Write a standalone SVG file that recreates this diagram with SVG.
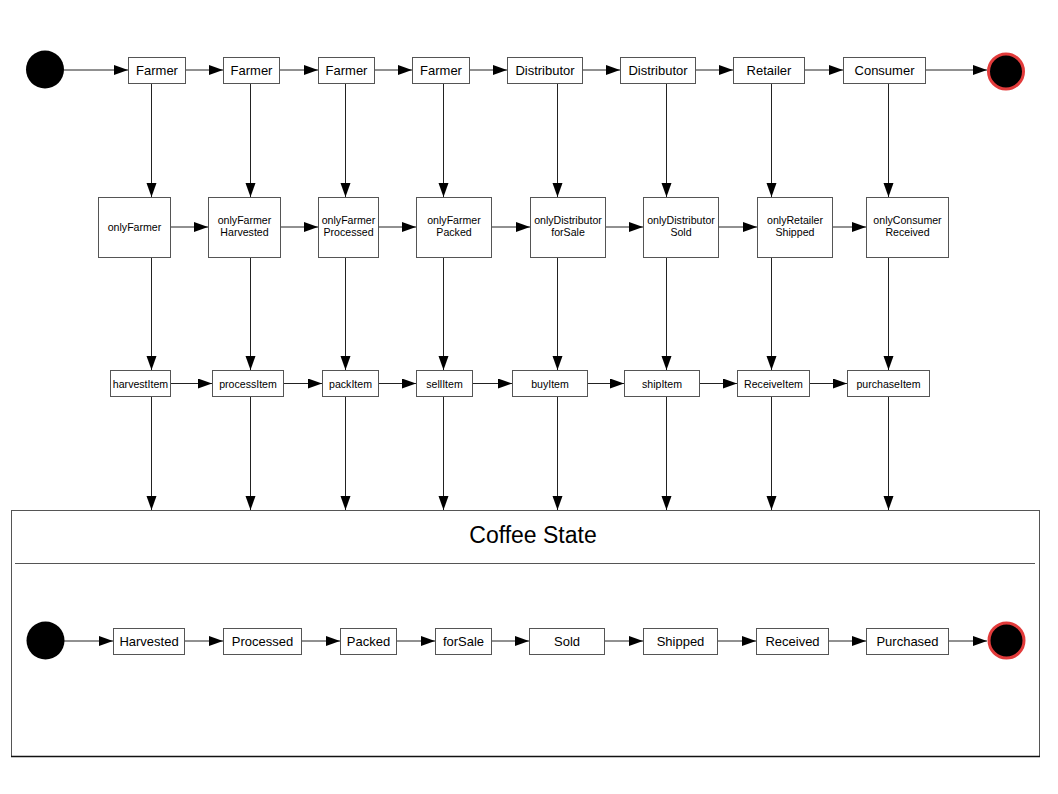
<svg xmlns="http://www.w3.org/2000/svg" width="1058" height="794" viewBox="0 0 1058 794">
<defs>
<marker id="ah" markerUnits="userSpaceOnUse" markerWidth="15" markerHeight="11" refX="14" refY="5" orient="auto">
<path d="M0,0 L14,5 L0,10 z" fill="#000"/>
</marker>
<style>
.b{fill:#fff;stroke:#555;stroke-width:1}
.t{font-family:"Liberation Sans",Arial,sans-serif;fill:#000;text-anchor:middle}
.l{font-size:13px}
.s{font-size:10.6px}
.c line{stroke:#222;stroke-width:1;marker-end:url(#ah)}
.st{fill:#000}
.en{fill:#000;stroke:#e23b3b;stroke-width:3}
</style>
</defs>
<rect width="1058" height="794" fill="#fff"/>

<g id="container">
<rect x="11.5" y="510.5" width="1028" height="246" fill="#fff" stroke="#555" stroke-width="1"/>
<line x1="11" y1="756.5" x2="1040" y2="756.5" stroke="#111" stroke-width="1.5"/>
<line x1="15" y1="563.5" x2="1035" y2="563.5" stroke="#555" stroke-width="1"/>
<text class="t" x="533" y="543" font-size="23">Coffee State</text>
</g>

<g id="connectors" class="c">
<!-- top row -->
<line x1="64" y1="70" x2="128" y2="70"/>
<line x1="186" y1="70" x2="223" y2="70"/>
<line x1="280" y1="70" x2="318" y2="70"/>
<line x1="375" y1="70" x2="412" y2="70"/>
<line x1="470" y1="70" x2="507" y2="70"/>
<line x1="583" y1="70" x2="620" y2="70"/>
<line x1="696" y1="70" x2="733" y2="70"/>
<line x1="805" y1="70" x2="843" y2="70"/>
<line x1="926" y1="70" x2="987" y2="70"/>
<!-- middle row -->
<line x1="171" y1="227" x2="208" y2="227"/>
<line x1="281" y1="227" x2="318" y2="227"/>
<line x1="378" y1="227" x2="416" y2="227"/>
<line x1="492" y1="227" x2="530" y2="227"/>
<line x1="606" y1="227" x2="643" y2="227"/>
<line x1="719" y1="227" x2="757" y2="227"/>
<line x1="833" y1="227" x2="866" y2="227"/>
<!-- method row -->
<line x1="170" y1="383.5" x2="212" y2="383.5"/>
<line x1="284" y1="383.5" x2="322" y2="383.5"/>
<line x1="378" y1="383.5" x2="416" y2="383.5"/>
<line x1="472" y1="383.5" x2="512" y2="383.5"/>
<line x1="587" y1="383.5" x2="624" y2="383.5"/>
<line x1="700" y1="383.5" x2="737" y2="383.5"/>
<line x1="810" y1="383.5" x2="847" y2="383.5"/>
<!-- bottom row -->
<line x1="64" y1="641" x2="113" y2="641"/>
<line x1="185" y1="641" x2="223" y2="641"/>
<line x1="302" y1="641" x2="340" y2="641"/>
<line x1="397" y1="641" x2="435" y2="641"/>
<line x1="492" y1="641" x2="529" y2="641"/>
<line x1="605" y1="641" x2="643" y2="641"/>
<line x1="718" y1="641" x2="756" y2="641"/>
<line x1="829" y1="641" x2="866" y2="641"/>
<line x1="949" y1="641" x2="987" y2="641"/>
<!-- verticals top to middle -->
<line x1="151.5" y1="83" x2="151.5" y2="197"/>
<line x1="250.5" y1="83" x2="250.5" y2="197"/>
<line x1="345.5" y1="83" x2="345.5" y2="197"/>
<line x1="443.5" y1="83" x2="443.5" y2="197"/>
<line x1="557.5" y1="83" x2="557.5" y2="197"/>
<line x1="666.5" y1="83" x2="666.5" y2="197"/>
<line x1="771.5" y1="83" x2="771.5" y2="197"/>
<line x1="888.5" y1="83" x2="888.5" y2="197"/>
<!-- verticals middle to method -->
<line x1="151.5" y1="257" x2="151.5" y2="370"/>
<line x1="250.5" y1="257" x2="250.5" y2="370"/>
<line x1="345.5" y1="257" x2="345.5" y2="370"/>
<line x1="443.5" y1="257" x2="443.5" y2="370"/>
<line x1="557.5" y1="257" x2="557.5" y2="370"/>
<line x1="666.5" y1="257" x2="666.5" y2="370"/>
<line x1="771.5" y1="257" x2="771.5" y2="370"/>
<line x1="888.5" y1="257" x2="888.5" y2="370"/>
<!-- verticals method to container -->
<line x1="151.5" y1="397" x2="151.5" y2="510"/>
<line x1="250.5" y1="397" x2="250.5" y2="510"/>
<line x1="345.5" y1="397" x2="345.5" y2="510"/>
<line x1="443.5" y1="397" x2="443.5" y2="510"/>
<line x1="557.5" y1="397" x2="557.5" y2="510"/>
<line x1="666.5" y1="397" x2="666.5" y2="510"/>
<line x1="771.5" y1="397" x2="771.5" y2="510"/>
<line x1="888.5" y1="397" x2="888.5" y2="510"/>
</g>

<!-- top row -->
<g id="start-top"><circle class="st" cx="45" cy="69.5" r="19"/></g>
<g id="end-top"><circle class="en" cx="1006" cy="71.5" r="17.5"/></g>
<g id="farmer1"><rect class="b" x="128.5" y="57.5" width="57" height="26"/><text class="t l" x="157" y="75">Farmer</text></g>
<g id="farmer2"><rect class="b" x="223.5" y="57.5" width="56" height="26"/><text class="t l" x="251.5" y="75">Farmer</text></g>
<g id="farmer3"><rect class="b" x="318.5" y="57.5" width="56" height="26"/><text class="t l" x="346.5" y="75">Farmer</text></g>
<g id="farmer4"><rect class="b" x="412.5" y="57.5" width="57" height="26"/><text class="t l" x="441" y="75">Farmer</text></g>
<g id="distributor1"><rect class="b" x="507.5" y="57.5" width="75" height="26"/><text class="t l" x="545" y="75">Distributor</text></g>
<g id="distributor2"><rect class="b" x="620.5" y="57.5" width="75" height="26"/><text class="t l" x="658" y="75">Distributor</text></g>
<g id="retailer"><rect class="b" x="733.5" y="57.5" width="71" height="26"/><text class="t l" x="769" y="75">Retailer</text></g>
<g id="consumer"><rect class="b" x="843.5" y="57.5" width="82" height="26"/><text class="t l" x="884.5" y="75">Consumer</text></g>

<!-- middle row -->
<g id="onlyFarmer"><rect class="b" x="98.5" y="197.5" width="72" height="60"/><text class="t s" x="134.5" y="230.5">onlyFarmer</text></g>
<g id="onlyFarmerHarvested"><rect class="b" x="208.5" y="197.5" width="72" height="60"/><text class="t s" x="244.5" y="224">onlyFarmer</text><text class="t s" x="244.5" y="236">Harvested</text></g>
<g id="onlyFarmerProcessed"><rect class="b" x="318.5" y="197.5" width="60" height="60"/><text class="t s" x="348.5" y="224">onlyFarmer</text><text class="t s" x="348.5" y="236">Processed</text></g>
<g id="onlyFarmerPacked"><rect class="b" x="416.5" y="197.5" width="75" height="60"/><text class="t s" x="454" y="224">onlyFarmer</text><text class="t s" x="454" y="236">Packed</text></g>
<g id="onlyDistributorForSale"><rect class="b" x="530.5" y="197.5" width="75" height="60"/><text class="t s" x="568" y="224">onlyDistributor</text><text class="t s" x="568" y="236">forSale</text></g>
<g id="onlyDistributorSold"><rect class="b" x="643.5" y="197.5" width="75" height="60"/><text class="t s" x="681" y="224">onlyDistributor</text><text class="t s" x="681" y="236">Sold</text></g>
<g id="onlyRetailerShipped"><rect class="b" x="757.5" y="197.5" width="75" height="60"/><text class="t s" x="795" y="224">onlyRetailer</text><text class="t s" x="795" y="236">Shipped</text></g>
<g id="onlyConsumerReceived"><rect class="b" x="866.5" y="197.5" width="82" height="60"/><text class="t s" x="907.5" y="224">onlyConsumer</text><text class="t s" x="907.5" y="236">Received</text></g>

<!-- method row -->
<g id="harvestItem"><rect class="b" x="110.5" y="370.5" width="60" height="26"/><text class="t s" x="140.5" y="387.5">harvestItem</text></g>
<g id="processItem"><rect class="b" x="212.5" y="370.5" width="71" height="26"/><text class="t s" x="248" y="387.5">processItem</text></g>
<g id="packItem"><rect class="b" x="322.5" y="370.5" width="56" height="26"/><text class="t s" x="350.5" y="387.5">packItem</text></g>
<g id="sellItem"><rect class="b" x="416.5" y="370.5" width="56" height="26"/><text class="t s" x="444.5" y="387.5">sellItem</text></g>
<g id="buyItem"><rect class="b" x="512.5" y="370.5" width="75" height="26"/><text class="t s" x="550" y="387.5">buyItem</text></g>
<g id="shipItem"><rect class="b" x="624.5" y="370.5" width="75" height="26"/><text class="t s" x="662" y="387.5">shipItem</text></g>
<g id="ReceiveItem"><rect class="b" x="737.5" y="370.5" width="72" height="26"/><text class="t s" x="773.5" y="387.5">ReceiveItem</text></g>
<g id="purchaseItem"><rect class="b" x="847.5" y="370.5" width="82" height="26"/><text class="t s" x="888.5" y="387.5">purchaseItem</text></g>

<!-- bottom row -->
<g id="start-bottom"><circle class="st" cx="45.5" cy="640.5" r="19"/></g>
<g id="end-bottom"><circle class="en" cx="1006.5" cy="640.5" r="17.5"/></g>
<g id="Harvested"><rect class="b" x="113.5" y="628.5" width="71" height="26"/><text class="t l" x="149" y="646">Harvested</text></g>
<g id="Processed"><rect class="b" x="223.5" y="628.5" width="78" height="26"/><text class="t l" x="262.5" y="646">Processed</text></g>
<g id="Packed"><rect class="b" x="340.5" y="628.5" width="56" height="26"/><text class="t l" x="368.5" y="646">Packed</text></g>
<g id="forSale"><rect class="b" x="435.5" y="628.5" width="56" height="26"/><text class="t l" x="463.5" y="646">forSale</text></g>
<g id="Sold"><rect class="b" x="529.5" y="628.5" width="75" height="26"/><text class="t l" x="567" y="646">Sold</text></g>
<g id="Shipped"><rect class="b" x="643.5" y="628.5" width="74" height="26"/><text class="t l" x="680.5" y="646">Shipped</text></g>
<g id="Received"><rect class="b" x="756.5" y="628.5" width="72" height="26"/><text class="t l" x="792.5" y="646">Received</text></g>
<g id="Purchased"><rect class="b" x="866.5" y="628.5" width="82" height="26"/><text class="t l" x="907.5" y="646">Purchased</text></g>
</svg>
